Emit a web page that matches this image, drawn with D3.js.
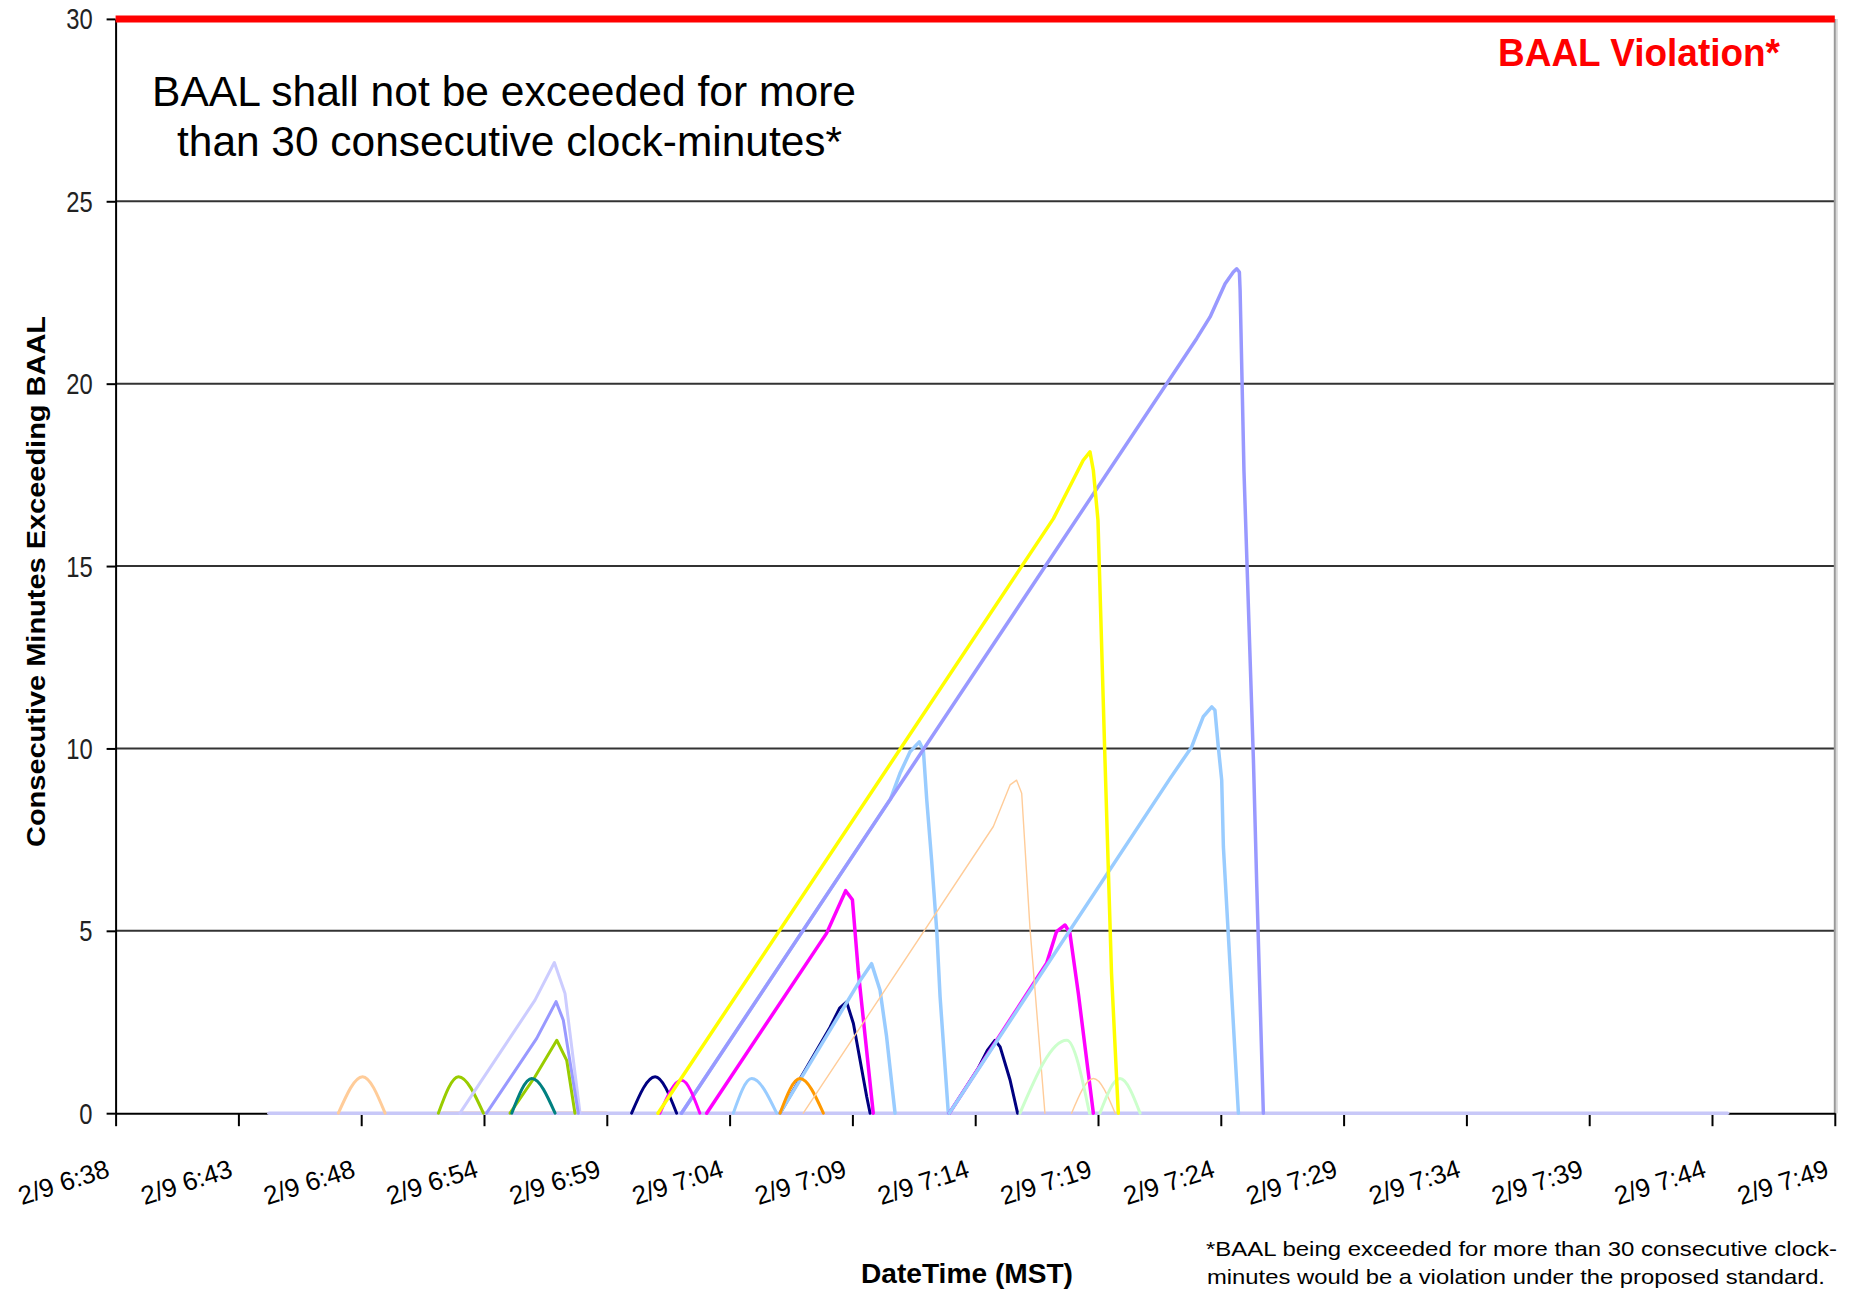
<!DOCTYPE html>
<html><head><meta charset="utf-8">
<script src="https://cdn.jsdelivr.net/npm/d3@7"></script>
<style>body{margin:0;background:#fff}svg{display:block}</style>
</head><body>
<svg id="chart" width="1849" height="1293"></svg>
<script>
// ---- data (x = minutes after 2/9 6:38, y = consecutive minutes exceeding BAAL) ----
const tickLabels = ["2/9 6:38","2/9 6:43","2/9 6:48","2/9 6:54","2/9 6:59","2/9 7:04","2/9 7:09","2/9 7:14","2/9 7:19","2/9 7:24","2/9 7:29","2/9 7:34","2/9 7:39","2/9 7:44","2/9 7:49"];
const xSpanMinutes = 71;
const yTicks = [0,5,10,15,20,25,30];
const baalLimit = 30;

const baselineLavender = [[6.33,0],[66.57,0]];
const baselinePeach = [[13.52,0],[20.28,0]];
const peachA = [[9.2,0],[10.2,1],[11.13,0]];
const greenA = [[13.33,0],[14.16,1],[15.19,0]];
const lavenderA = [[14.22,0],[17.32,3.1],[18.12,4.13],[18.56,3.28],[19.18,0]];
const periwinkleA = [[15.32,0],[17.39,2.05],[18.19,3.06],[18.49,2.55],[19.11,0]];
const greenB = [[16.29,0],[17.32,1.0],[18.22,2.0],[18.63,1.45],[18.97,0]];
const tealA = [[16.36,0],[17.19,0.95],[18.15,0]];
const lightBlueC = [[23.37,0],[32.0,8.61],[32.39,9.31],[32.81,9.91],[33.19,10.18],[33.36,9.95],[33.5,8.58],[33.7,6.94],[33.91,5.02],[34.05,3.19],[34.39,0]];
const periwinkleB = [[23.37,0],[44.65,21.24],[45.2,21.83],[45.82,22.74],[46.16,23.06],[46.3,23.15],[46.41,23.06],[46.44,22.56],[46.6,17.6],[46.99,9.68],[47.13,6.2],[47.4,0]];
const navyA = [[21.31,0],[22.28,1],[23.17,0]];
const navyB = [[27.44,0],[29.5,2.35],[29.9,2.88],[30.19,3.05],[30.47,2.46],[31.02,0.45],[31.16,0]];
const navyC = [[34.43,0],[35.6,1.2],[36.0,1.72],[36.32,2.0],[36.53,1.82],[36.94,0.91],[37.25,0]];
const magentaA = [[22.48,0],[23.37,0.9],[24.13,0]];
const magentaB = [[24.41,0],[29.36,4.93],[30.15,6.1],[30.43,5.85],[30.67,3.9],[31.29,0]];
const magentaC = [[34.43,0],[38.45,4.11],[38.86,4.98],[39.21,5.16],[39.41,4.94],[39.76,3.28],[40.38,0]];
const lightBlueA = [[25.51,0],[26.27,0.95],[27.30,0]];
const lightBlueB = [[27.44,0],[30.67,3.56],[31.22,4.1],[31.57,3.37],[31.84,2.1],[32.19,0]];
const lightBlueD = [[34.43,0],[43.55,9.18],[44.44,10.04],[44.65,10.41],[44.92,10.87],[45.27,11.14],[45.4,11.05],[45.54,10.04],[45.68,9.13],[45.75,7.3],[45.95,4.93],[46.37,0]];
const orangeA = [[27.44,0],[28.26,0.95],[29.23,0]];
const peachB = [[28.4,0],[36.25,7.86],[36.94,9.0],[37.21,9.13],[37.42,8.77],[37.76,5.1],[38.38,0]];
const peachC = [[39.48,0],[40.38,0.95],[41.28,0]];
const lightGreenA = [[37.35,0],[39.28,2.0],[40.22,0]];
const lightGreenB = [[40.65,0],[41.48,0.95],[42.31,0]];
const yellowA = [[22.4,0],[38.73,16.3],[39.96,17.9],[40.24,18.13],[40.38,17.62],[40.57,16.26],[40.86,9.68],[41.13,3.83],[41.41,0]];

// ---- drawing order & styles (smooth = rounded hump) ----
const series = [
  {data: baselinePeach, color:"#F9C89A", w:3.5},
  {data: baselineLavender, color:"#C8C8F8", w:3.5},
  {data: peachA, color:"#FFCC99", w:3, smooth:true},
  {data: greenA, color:"#99CC00", w:3, smooth:true},
  {data: lavenderA, color:"#CCCCFF", w:3},
  {data: periwinkleA, color:"#9999FF", w:3},
  {data: greenB, color:"#99CC00", w:3},
  {data: tealA, color:"#008080", w:3, smooth:true},
  {data: lightBlueC, color:"#99CCFF", w:3.5},
  {data: periwinkleB, color:"#9999FF", w:3.5},
  {data: navyA, color:"#000080", w:3, smooth:true},
  {data: navyB, color:"#000080", w:3},
  {data: navyC, color:"#000080", w:3},
  {data: magentaA, color:"#FF00FF", w:3, smooth:true},
  {data: magentaB, color:"#FF00FF", w:3.5},
  {data: magentaC, color:"#FF00FF", w:3.5},
  {data: lightBlueA, color:"#99CCFF", w:3, smooth:true},
  {data: lightBlueB, color:"#99CCFF", w:3.5},
  {data: lightBlueD, color:"#99CCFF", w:3.5},
  {data: orangeA, color:"#FF9900", w:3, smooth:true},
  {data: peachB, color:"#FFCC99", w:1.4},
  {data: peachC, color:"#FFCC99", w:1.4, smooth:true},
  {data: lightGreenA, color:"#CCFFCC", w:3, smooth:true},
  {data: lightGreenB, color:"#CCFFCC", w:3, smooth:true},
  {data: yellowA, color:"#FFFF00", w:3.5}
];

const svg = d3.select("#chart");
const L = 115.6, R = 1834.8, T = 18.9, B = 1113.2;
const x = d3.scaleLinear().domain([0, xSpanMinutes]).range([L, R]);
const y = d3.scaleLinear().domain([0, 30]).range([B, T]);

// gridlines
svg.append("g").selectAll("line").data(yTicks.filter(d => d > 0 && d < 30)).join("line")
  .attr("x1", L).attr("x2", R).attr("y1", d => y(d)).attr("y2", d => y(d))
  .attr("stroke", "#333").attr("stroke-width", 2);

// right border
svg.append("line").attr("x1", R + 2).attr("x2", R + 2).attr("y1", T).attr("y2", B)
  .attr("stroke", "#d8d8d8").attr("stroke-width", 2);
svg.append("line").attr("x1", R).attr("x2", R).attr("y1", T).attr("y2", B)
  .attr("stroke", "#999").attr("stroke-width", 2);

// axes
const tickPos = tickLabels.map((_, i) => i * xSpanMinutes / (tickLabels.length - 1));
const xAxis = svg.append("g").attr("transform", `translate(0,${B})`)
  .call(d3.axisBottom(x).tickValues(tickPos).tickFormat((d, i) => tickLabels[i]).tickSize(13).tickSizeOuter(0));
xAxis.select(".domain").attr("stroke", "#000").attr("stroke-width", 2);
xAxis.selectAll(".tick line").attr("stroke", "#000").attr("stroke-width", 2);
xAxis.selectAll(".tick text")
  .attr("text-anchor", "end")
  .attr("transform", "translate(-5,63) rotate(-18)")
  .attr("y", 0).attr("dy", 0).attr("x", 0)
  .style("font-family", "Liberation Sans, Arial, sans-serif")
  .style("font-size", "26px").attr("fill", "#000");

const yAxis = svg.append("g").attr("transform", `translate(${L},0)`)
  .call(d3.axisLeft(y).tickValues(yTicks).tickSize(9).tickSizeOuter(0));
yAxis.select(".domain").attr("stroke", "#000").attr("stroke-width", 2);
yAxis.selectAll(".tick line").attr("stroke", "#000").attr("stroke-width", 2);
yAxis.selectAll(".tick text").remove();
yAxis.selectAll(".tick").append("text")
  .text(d => d)
  .attr("text-anchor", "end")
  .attr("transform", "translate(-23,10) scale(0.82,1)")
  .style("font-family", "Liberation Sans, Arial, sans-serif")
  .style("font-size", "29px").attr("fill", "#222");

// series lines
const lineStraight = d3.line().x(d => x(d[0])).y(d => y(d[1])).curve(d3.curveLinear);
const lineSmooth = d3.line().x(d => x(d[0])).y(d => y(d[1])).curve(d3.curveMonotoneX);
svg.append("g").selectAll("path").data(series).join("path")
  .attr("d", d => (d.smooth ? lineSmooth : lineStraight)(d.data))
  .attr("fill", "none")
  .attr("stroke", d => d.color)
  .attr("stroke-width", d => d.w)
  .attr("stroke-linejoin", "round")
  .attr("stroke-linecap", "round");

// BAAL limit line
svg.append("line").attr("x1", L).attr("x2", R).attr("y1", y(baalLimit)).attr("y2", y(baalLimit))
  .attr("stroke", "#FF0000").attr("stroke-width", 7);

// texts
const font = "Liberation Sans, Arial, sans-serif";
svg.append("text").text("BAAL Violation*")
  .attr("x", 1498).attr("y", 66).attr("textLength", 282).attr("lengthAdjust", "spacingAndGlyphs")
  .style("font-family", font).style("font-weight", "bold").style("font-size", "39px").attr("fill", "#FF0000");

svg.append("text").text("BAAL shall not be exceeded for more")
  .attr("x", 152).attr("y", 106).attr("textLength", 704).attr("lengthAdjust", "spacingAndGlyphs")
  .style("font-family", font).style("font-size", "43px").attr("fill", "#000");
svg.append("text").text("than 30 consecutive clock-minutes*")
  .attr("x", 177).attr("y", 156).attr("textLength", 665).attr("lengthAdjust", "spacingAndGlyphs")
  .style("font-family", font).style("font-size", "43px").attr("fill", "#000");

svg.append("text").text("DateTime (MST)")
  .attr("x", 861).attr("y", 1283).attr("textLength", 212).attr("lengthAdjust", "spacingAndGlyphs")
  .style("font-family", font).style("font-weight", "bold").style("font-size", "28px").attr("fill", "#000");

svg.append("text").text("Consecutive Minutes Exceeding BAAL")
  .attr("transform", "translate(45,581.5) rotate(-90)")
  .attr("text-anchor", "middle").attr("textLength", 531).attr("lengthAdjust", "spacingAndGlyphs")
  .style("font-family", font).style("font-weight", "bold").style("font-size", "25px").attr("fill", "#000");

svg.append("text").text("*BAAL being exceeded for more than 30 consecutive clock-")
  .attr("x", 1206).attr("y", 1256).attr("textLength", 631).attr("lengthAdjust", "spacingAndGlyphs")
  .style("font-family", font).style("font-size", "21px").attr("fill", "#000");
svg.append("text").text("minutes would be a violation under the proposed standard.")
  .attr("x", 1207).attr("y", 1284).attr("textLength", 618).attr("lengthAdjust", "spacingAndGlyphs")
  .style("font-family", font).style("font-size", "21px").attr("fill", "#000");
</script>
</body></html>
